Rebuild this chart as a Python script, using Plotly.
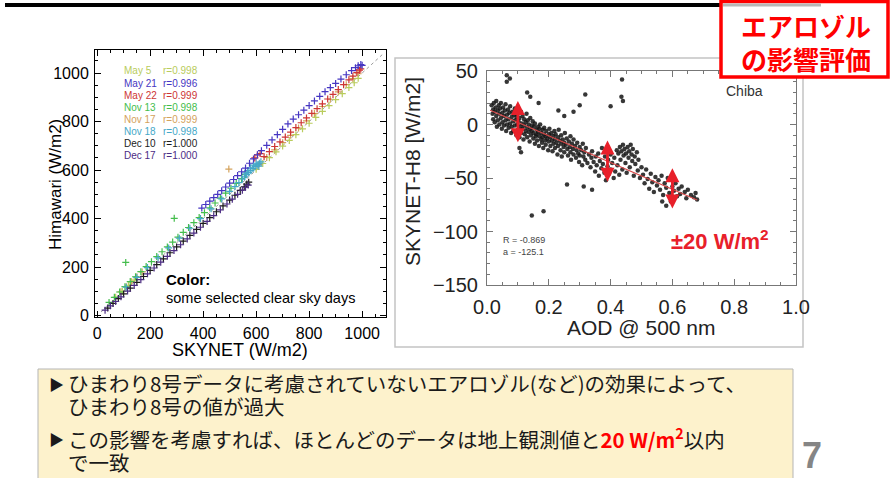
import plotly.graph_objects as go
import numpy as np

W, H = 890, 478
def fx(x): return x / W
def fy(y): return 1 - y / H

# ---------------- left chart data (SKYNET vs Himawari, W/m2) ----------------
series_names = ["May 5", "May 21", "May 22", "Nov 13", "Nov 17", "Nov 18", "Dec 10", "Dec 17"]
series_r = ["r=0.998", "r=0.996", "r=0.999", "r=0.998", "r=0.999", "r=0.998", "r=1.000", "r=1.000"]
series_colors = ["#b9cc5c", "#4636c2", "#cd3535", "#44bd4c", "#d4a25c", "#45a8c8", "#1b1b1b", "#4c2c84"]

may5_x = [70, 95, 118, 140, 600, 625, 650, 675, 700, 725, 750, 775, 800, 825, 850, 875, 900, 925, 950, 970, 985]
may5_y = [75, 100, 124, 146, 603, 627, 651, 675, 699, 722, 746, 770, 793, 817, 842, 866, 890, 915, 940, 960, 978]
may21_x = [395, 410, 425, 440, 455, 470, 485, 500, 515, 530, 545, 560, 575, 590, 605, 620, 640, 660, 680, 700,
           720, 740, 760, 780, 800, 820, 840, 860, 880, 900, 920, 940, 960, 975, 985, 995, 1000]
may21_y = [443, 458, 472, 486, 500, 515, 530, 546, 561, 577, 593, 608, 628, 646, 663, 680, 702, 724, 746, 768,
           790, 810, 828, 847, 866, 885, 904, 923, 940, 957, 975, 993, 1010, 1022, 1030, 1035, 1032]
may22_x = [595, 605, 615, 630, 650, 670, 690, 710, 730, 750, 770, 790, 810, 830, 850, 870, 890, 910, 930, 950,
           965, 980, 990, 995]
may22_y = [650, 662, 668, 655, 676, 697, 716, 736, 756, 775, 795, 815, 834, 853, 873, 893, 912, 932, 952, 972,
           987, 1002, 1012, 1017]
nov13_x = [45, 65, 85, 105, 125, 145, 165, 185, 205, 225, 245, 265, 285, 305, 325, 345, 365, 385, 405, 425,
           445, 465, 485, 505, 525, 545, 560, 108, 291]
nov13_y = [54, 75, 97, 119, 140, 160, 181, 202, 222, 243, 263, 283, 303, 323, 343, 363, 383, 404, 424, 444,
           464, 484, 505, 525, 545, 565, 582, 219, 401]
nov17_x = [90, 110, 130, 150, 170, 610, 640, 670, 700, 730, 760, 790, 820, 850, 880, 910, 940, 965, 985, 497]
nov17_y = [98, 119, 139, 160, 180, 622, 652, 683, 713, 743, 773, 803, 833, 862, 892, 922, 952, 977, 997, 604]
nov18_x = [110, 150, 190, 230, 270, 310, 350, 390, 430, 470, 500, 520, 535, 548, 556, 564, 572, 580, 588, 596,
           604, 612, 618, 558, 568, 578, 590, 600, 610]
nov18_y = [117, 157, 198, 238, 279, 319, 360, 400, 440, 481, 512, 532, 548, 563, 572, 581, 589, 598, 606, 614,
           621, 628, 634, 588, 598, 609, 620, 628, 616]
dec10_x = [40, 60, 80, 100, 125, 150, 175, 200, 225, 250, 275, 300, 325, 350, 375, 400, 425, 450, 475, 500,
           520, 540, 555, 565, 572]
dec10_y = [31, 50, 70, 89, 113, 137, 161, 186, 210, 234, 259, 283, 307, 331, 355, 380, 404, 428, 452, 476,
           496, 516, 531, 542, 550]
dec17_x = [30, 50, 70, 90, 115, 140, 165, 190, 215, 240, 265, 290, 315, 340, 365, 390, 415, 440, 465, 490,
           510, 530, 548, 560, 570]
dec17_y = [22, 40, 58, 77, 101, 124, 148, 172, 196, 220, 244, 268, 292, 316, 340, 364, 388, 412, 436, 460,
           480, 500, 517, 529, 538]

series_x = [may5_x, may21_x, may22_x, nov13_x, nov17_x, nov18_x, dec10_x, dec17_x]
series_y = [may5_y, may21_y, may22_y, nov13_y, nov17_y, nov18_y, dec10_y, dec17_y]
draw_order = [4, 0, 3, 5, 6, 7, 2, 1]

one_to_one = [15, 1080]

# ---------------- right chart data (Chiba: AOD vs SKYNET-H8) ----------------
chiba_points = [
    (0.015, 18), (0.018, 10), (0.02, 14), (0.02, 5), (0.022, 20), (0.025, 12), (0.025, 2), (0.028, 16), (0.03, 8),
    (0.03, 22), (0.032, -2), (0.035, 13), (0.035, 4), (0.038, 18), (0.04, 10), (0.04, 0), (0.042, 15), (0.045, 6),
    (0.045, 20), (0.048, -4), (0.05, 11), (0.05, 2), (0.052, 16), (0.055, 8), (0.055, -1), (0.058, 13), (0.06, 4),
    (0.06, 19), (0.062, -6), (0.065, 9), (0.065, 0), (0.068, 14), (0.07, 5), (0.07, -3), (0.072, 11), (0.075, 1),
    (0.075, 17), (0.078, -8), (0.08, 7), (0.08, -2), (0.082, 12), (0.085, 3), (0.085, -6), (0.088, 9), (0.09, -1),
    (0.09, 15), (0.092, 4), (0.095, -10), (0.095, 7), (0.098, 0), (0.1, 10), (0.1, -5), (0.102, 3), (0.105, -12),
    (0.105, 6), (0.108, -2), (0.11, 12), (0.11, -8), (0.112, 1), (0.115, -4), (0.115, 8), (0.118, -14), (0.12, -1),
    (0.12, 5), (0.122, -9), (0.125, 2), (0.125, -6), (0.128, 10), (0.13, -3), (0.13, -12), (0.132, 4), (0.135, -7),
    (0.135, 0), (0.138, -16), (0.14, -4), (0.14, 6), (0.142, -10), (0.145, -1), (0.145, -6), (0.148, 3),
    (0.15, -13), (0.15, -8), (0.152, -2), (0.155, -18), (0.155, 1), (0.158, -11), (0.16, -5), (0.16, -9),
    (0.162, -15), (0.165, -2), (0.165, -7), (0.168, -20), (0.17, -11), (0.17, -4), (0.172, 0), (0.175, -14),
    (0.175, -8), (0.178, -17), (0.18, -5), (0.18, -12), (0.182, -22), (0.185, -9), (0.185, -3), (0.188, -15),
    (0.19, -11), (0.19, -19), (0.192, -6), (0.195, -13), (0.198, -24), (0.2, -9), (0.2, -16), (0.202, -4),
    (0.205, -12), (0.205, -20), (0.208, -8), (0.21, -15), (0.212, -25), (0.215, -11), (0.215, -18), (0.218, -6),
    (0.22, -14), (0.22, -22), (0.222, -9), (0.225, -17), (0.228, -28), (0.23, -12), (0.23, -20), (0.232, -5),
    (0.235, -15), (0.238, -24), (0.24, -18), (0.24, -10), (0.242, -30), (0.245, -14), (0.248, -21), (0.25, -17),
    (0.25, -26), (0.252, -8), (0.255, -19), (0.258, -13), (0.26, -23), (0.262, -29), (0.265, -16), (0.268, -21),
    (0.27, -11), (0.27, -26), (0.272, -33), (0.275, -18), (0.278, -23), (0.28, -14), (0.28, -28), (0.285, -20),
    (0.288, -31), (0.29, -24), (0.292, -17), (0.295, -27), (0.298, -35), (0.3, -21), (0.3, -29), (0.305, -24),
    (0.308, -38), (0.31, -18), (0.312, -30), (0.315, -26), (0.318, -33), (0.32, -22),
    (0.325, -36), (0.33, -28), (0.335, -40), (0.338, -31), (0.34, -25), (0.345, -35), (0.35, -44), (0.352, -30),
    (0.355, -38), (0.36, -27), (0.362, -48), (0.365, -34), (0.37, -41), (0.372, -22), (0.375, -37), (0.38, -45),
    (0.382, -30), (0.385, -52), (0.39, -39), (0.392, -33), (0.395, -46), (0.4, -28), (0.4, -42), (0.405, -36),
    (0.41, -50), (0.412, -31), (0.415, -44), (0.42, -24), (0.422, -38), (0.425, -27), (0.428, -47), (0.43, -21),
    (0.432, -33), (0.435, -25), (0.438, -42), (0.44, -19), (0.442, -29), (0.445, -23), (0.448, -36), (0.45, -27),
    (0.452, -45), (0.455, -21), (0.458, -31), (0.46, -25), (0.462, -40), (0.465, -19), (0.468, -28), (0.47, -34),
    (0.472, -23), (0.475, -48), (0.478, -30), (0.48, -37), (0.485, -26), (0.488, -43), (0.49, -33), (0.495, -50),
    (0.5, -40),
    (0.505, -47), (0.51, -55), (0.515, -42), (0.52, -51), (0.525, -60), (0.53, -46), (0.535, -54), (0.54, -63),
    (0.545, -49), (0.55, -57), (0.555, -52), (0.56, -61), (0.565, -48), (0.567, -72), (0.57, -66), (0.575, -55),
    (0.58, -59), (0.58, -76), (0.585, -50), (0.59, -64), (0.595, -72), (0.6, -58), (0.605, -62), (0.61, -55),
    (0.615, -67), (0.62, -60), (0.625, -65), (0.63, -58), (0.64, -63), (0.645, -69), (0.65, -61), (0.66, -66),
    (0.67, -68), (0.675, -64), (0.68, -70),
    (0.064, 46), (0.064, 40), (0.074, 43), (0.13, 30), (0.14, 26), (0.167, 20), (0.231, 13), (0.25, 8),
    (0.28, 12), (0.3, 18), (0.318, 28), (0.4, 17), (0.437, 42), (0.44, 22), (0.435, 26),
    (0.145, -85), (0.183, -81), (0.259, -56), (0.313, -58), (0.34, -61), (0.105, -22), (0.11, -26),
]
aod_x = [p[0] for p in chiba_points]
diff_y = [p[1] for p in chiba_points]

fit_intercept = 14.5
fit_slope = -125.1
fit_x = np.array([0.01, 0.68])

arrow_x = [0.10, 0.39, 0.60]
arrow_lo = [-18, -55, -80]
arrow_hi = [22, -15, -41]

# ---------------- figure ----------------
fig = go.Figure()

fig.add_trace(go.Scatter(x=one_to_one, y=one_to_one, mode="lines",
                         line=dict(color="#9a9a9a", width=1, dash="dot"),
                         xaxis="x", yaxis="y", hoverinfo="skip"))
for i in draw_order:
    fig.add_trace(go.Scatter(
        x=series_x[i], y=series_y[i], mode="markers", name=series_names[i],
        marker=dict(symbol="cross-thin", size=5, color=series_colors[i],
                    line=dict(color=series_colors[i], width=1.2)),
        xaxis="x", yaxis="y"))

fig.add_trace(go.Scatter(x=aod_x, y=diff_y, mode="markers",
                         marker=dict(size=4.5, color="rgba(20,20,20,0.85)", line=dict(width=0)),
                         xaxis="x2", yaxis="y2"))
fig.add_trace(go.Scatter(x=fit_x, y=fit_intercept + fit_slope * fit_x, mode="lines",
                         line=dict(color="#d84848", width=1.2), xaxis="x2", yaxis="y2"))

tick_font_l = dict(family="Liberation Sans, Arial", size=16, color="#000")
tick_font_r = dict(family="Liberation Sans, Arial", size=20, color="#222")

common_l = dict(showline=True, linecolor="#000", linewidth=1, mirror="allticks", automargin=False,
                ticks="inside", ticklen=6, tickcolor="#000", showgrid=False, zeroline=False,
                tickfont=tick_font_l)
common_r = dict(showline=True, linecolor="#777", linewidth=1, mirror="allticks", automargin=False,
                ticks="inside", ticklen=6, tickcolor="#777", showgrid=False, zeroline=False,
                tickfont=tick_font_r)

fig.update_layout(
    width=W, height=H, autosize=False,
    margin=dict(l=0, r=0, t=0, b=0, pad=0),
    paper_bgcolor="white", plot_bgcolor="white",
    showlegend=False,
    xaxis=dict(domain=[fx(95), fx(386)], anchor="y", range=[-8, 1090], dtick=200, tick0=0,
               minor=dict(ticks="inside", dtick=50, ticklen=3, tickcolor="#000"),
               ticklabelstandoff=2, **common_l),
    yaxis=dict(domain=[fy(317), fy(50)], anchor="x", range=[-6, 1095], dtick=200, tick0=0,
               minor=dict(ticks="inside", dtick=50, ticklen=3, tickcolor="#000"),
               ticklabelstandoff=2, **common_l),
    xaxis2=dict(domain=[fx(487), fx(796)], anchor="y2", range=[0, 1.0], dtick=0.2, tick0=0,
                tickformat=".1f",
                minor=dict(ticks="inside", dtick=0.05, ticklen=3, tickcolor="#777"),
                ticklabelstandoff=4, **common_r),
    yaxis2=dict(domain=[fy(285), fy(71)], anchor="x2", range=[-150, 50], dtick=50, tick0=0,
                minor=dict(ticks="inside", dtick=10, ticklen=3, tickcolor="#777"),
                ticklabelstandoff=4, **common_r),
)

shapes = []
shapes.append(dict(type="rect", xref="paper", yref="paper", x0=fx(395), x1=fx(803), y0=fy(347), y1=fy(58),
                   line=dict(color="#c4c4c4", width=1.5), fillcolor="rgba(0,0,0,0)", layer="below"))
shapes.append(dict(type="rect", xref="paper", yref="paper", x0=fx(38), x1=fx(793), y0=fy(482), y1=fy(369),
                   line=dict(color="#b5b5b5", width=1), fillcolor="#fdf2cc", layer="below"))
shapes.append(dict(type="line", xref="paper", yref="paper", x0=fx(5), x1=fx(722), y0=fy(5), y1=fy(5),
                   line=dict(color="#000", width=4), layer="above"))
shapes.append(dict(type="rect", xref="paper", yref="paper", x0=fx(721), x1=fx(888), y0=fy(77), y1=fy(1.5),
                   line=dict(color="#ff0000", width=3.5), fillcolor="white", layer="above"))
shapes.append(dict(type="line", xref="paper", yref="paper", x0=fx(723), x1=fx(821), y0=fy(5), y1=fy(5),
                   line=dict(color="#b8b8b8", width=3), layer="above"))

ann = []
def A(x, y, text, size, color="#000", family="Liberation Sans, Arial", xanchor="center", angle=0, **kw):
    ann.append(dict(x=fx(x), y=fy(y), xref="paper", yref="paper", text=text, showarrow=False,
                    xanchor=xanchor, yanchor="middle", textangle=angle,
                    font=dict(size=size, color=color, family=family), **kw))

A(240, 350, "SKYNET (W/m2)", 18)
A(55, 185, "Himawari (W/m2)", 17, angle=-90)
for k, (nm, rr, col) in enumerate(zip(series_names, series_r, series_colors)):
    yy = 71 + k * 12.1
    A(122, yy, nm, 10, color=col, xanchor="left")
    A(161, yy, rr, 10, color=col, xanchor="left")
A(164, 279, "<b>Color:</b>", 15, xanchor="left")
A(164, 298, "some selected clear sky days", 14.5, xanchor="left")

A(641, 327, "AOD @ 500 nm", 21, color="#222")
A(413, 172, "SKYNET-H8 [W/m2]", 21, color="#222", angle=-90)
A(744, 91, "Chiba", 14, color="#333")
A(501, 240, "R = -0.869", 9, color="#444", xanchor="left")
A(501, 252, "a = -125.1", 9, color="#444", xanchor="left")
A(720, 240, "<b>±20 W/m<sup>2</sup></b>", 22, color="#e8202a")

A(806, 26, "<b>エアロゾル</b>", 26, color="#ff0000", family="Noto Sans CJK JP")
A(806, 58, "<b>の影響評価</b>", 26, color="#ff0000", family="Noto Sans CJK JP")

jp = "Noto Sans CJK JP"
A(47, 383, "▶", 15, color="#1a1a1a", family=jp, xanchor="left")
A(66, 383, "ひまわり8号データに考慮されていないエアロゾル(など)の効果によって、", 20.5, color="#1a1a1a",
  family=jp, xanchor="left")
A(66, 406, "ひまわり8号の値が過大", 20.5, color="#1a1a1a", family=jp, xanchor="left")
A(47, 438, "▶", 15, color="#1a1a1a", family=jp, xanchor="left")
A(66, 438, "この影響を考慮すれば、ほとんどのデータは地上観測値と"
  "<span style='color:#ff0000'><b>20 W/m<sup>2</sup></b></span>以内", 20.5, color="#1a1a1a",
  family=jp, xanchor="left")
A(66, 462, "で一致", 20.5, color="#1a1a1a", family=jp, xanchor="left")
A(812, 455, "<b>7</b>", 36, color="#858585")

for xa, lo, hi in zip(arrow_x, arrow_lo, arrow_hi):
    ann.append(dict(x=xa, y=hi, ax=xa, ay=lo, xref="x2", yref="y2", axref="x2", ayref="y2",
                    text="", showarrow=True, arrowhead=2, arrowside="end+start", arrowsize=1,
                    arrowwidth=2.8, arrowcolor="#e8202a"))

fig.update_layout(shapes=shapes, annotations=ann)
fig.write_html("out.html", config={"displayModeBar": False},
               post_script="document.body.style.margin='0';document.body.style.overflow='hidden';")
